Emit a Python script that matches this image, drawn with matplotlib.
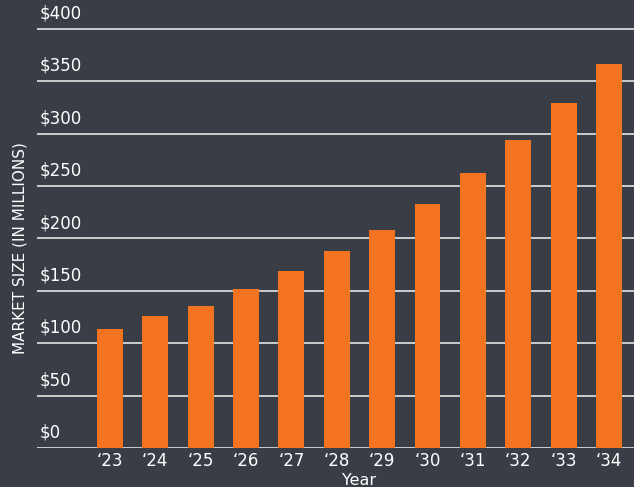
import matplotlib
matplotlib.use('Agg')
import matplotlib.pyplot as plt
import matplotlib.transforms as mtransforms

years = ['‘23', '‘24', '‘25', '‘26', '‘27', '‘28', '‘29', '‘30', '‘31', '‘32', '‘33', '‘34']
market_size = [114, 126, 136, 152, 169, 188, 208, 233, 262, 294, 329, 366]
y_ticks = [0, 50, 100, 150, 200, 250, 300, 350, 400]
y_tick_labels = ['$0', '$50', '$100', '$150', '$200', '$250', '$300', '$350', '$400']

bg = '#393d46'
orange = '#f47320'

plt.rcParams['font.family'] = ['DejaVu Sans']

fig = plt.figure(figsize=(6.34, 4.87), dpi=100, facecolor=bg)
ax = fig.add_axes([0.058, 0.080, 0.942, 0.878])
ax.set_facecolor(bg)

x = list(range(len(years)))
ax.bar(x, market_size, width=0.57, color=orange, zorder=3)

for v in y_ticks:
    ax.axhline(v, color='#d8d8d8', linewidth=1.3, zorder=1)

trans = mtransforms.blended_transform_factory(ax.transAxes, ax.transData)
for v, lab in zip(y_ticks, y_tick_labels):
    ax.text(0.005, v + 6, lab, transform=trans, color='white', fontsize=12,
            ha='left', va='bottom', zorder=4)

ax.set_xlim(-1.61, 11.55)
ax.set_ylim(0, 408)
ax.set_xticks(x)
ax.set_xticklabels(years, color='white', fontsize=12)
ax.set_yticks([])
ax.tick_params(axis='x', length=0, pad=3)
for s in ax.spines.values():
    s.set_visible(False)

# "Year" sits under the middle of the bar group, partly cut off at the bottom
xtrans = mtransforms.blended_transform_factory(ax.transData, fig.transFigure)
ax.text(5.5, 0.013, 'Year', transform=xtrans, color='white', fontsize=11.5,
        ha='center', va='center')
fig.text(0.032, 0.49, 'MARKET SIZE (IN MILLIONS)', rotation=90, color='white',
         fontsize=11, ha='center', va='center')

plt.savefig('out.png', dpi=100, facecolor=bg)
